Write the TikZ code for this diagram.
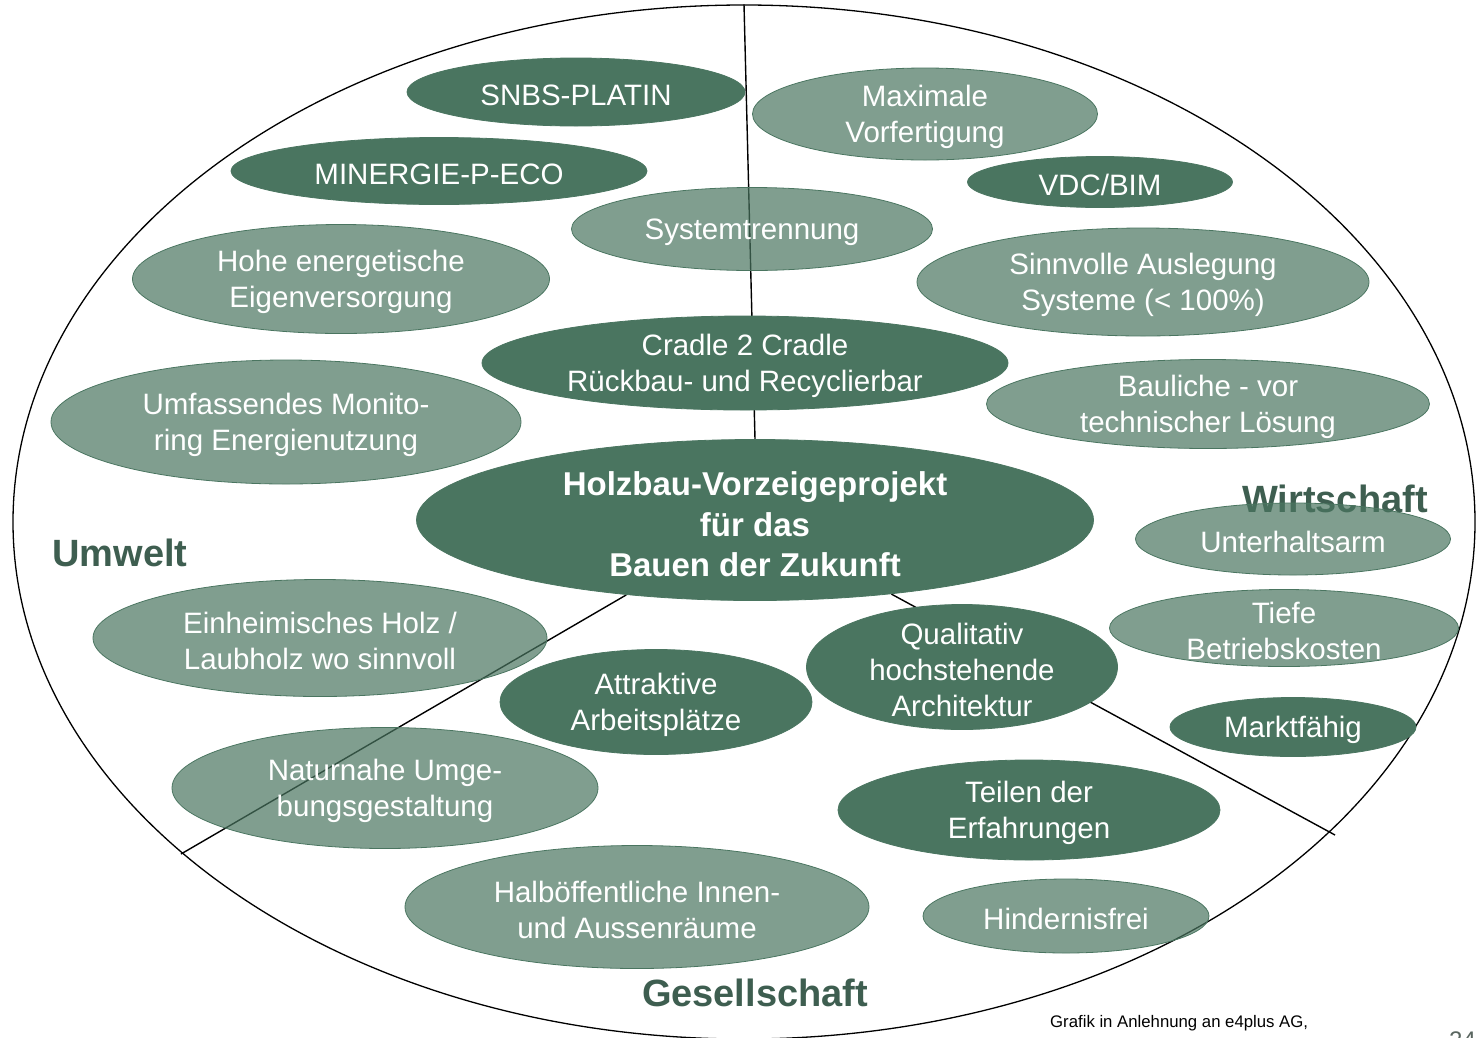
\documentclass[tikz,border=0pt]{standalone}
\usepackage{fontspec}
\setmainfont{Liberation Sans}
\usetikzlibrary{shapes.geometric}
\definecolor{gruen}{HTML}{4A7560}
\definecolor{titel}{HTML}{3E5E50}
\definecolor{seite}{HTML}{5A6660}
\pgfdeclarelayer{hinten}
\pgfsetlayers{hinten,main}

\begin{document}
\begin{tikzpicture}[
		x=1pt, y=-1pt,
		trenn/.style={line width=1.4pt, black},
		blase/.style={ellipse, inner sep=0pt, draw=gruen, line width=0.8pt},
		dunkel/.style={blase, fill=gruen},
		hell/.style={blase, fill=gruen, fill opacity=0.7},
		txt/.style={text=white, align=center, inner sep=0pt, yshift=-3pt,
			fill opacity=1, text opacity=1,
			font=\fontsize{29.5}{36}\selectfont},
		kern/.style={txt, yshift=-1.5pt, font=\bfseries\fontsize{33}{40.5}\selectfont},
		bereich/.style={text=titel, inner sep=0pt,
			font=\bfseries\fontsize{38}{44}\selectfont}]
	
	\useasboundingbox (0,0) rectangle (1481,1037);
	
	%% Rahmen und Trennlinien (hinter den Ellipsen)
	\begin{pgfonlayer}{hinten}
		\node[ellipse, draw=black, line width=1.3pt, inner sep=0pt,
			minimum width=1462pt, minimum height=1034pt] (rahmen) at (744,522) {};
	\end{pgfonlayer}
	\coordinate (endL) at (181,854);
	\coordinate (endR) at (1335,835);
	
	%% Bereiche
	\node[bereich] (umwelt) at (120,553) {Umwelt};
	\node[bereich] (wirtschaft) at (1335,499) {Wirtschaft};
	\node[bereich] (gesellschaft) at (755,993) {Gesellschaft};
	
	%% Ellipsen oben
	\node[dunkel, minimum width=338pt, minimum height=68pt,
		label={[txt]center:SNBS-PLATIN}] (snbs) at (576,92) {};
	\node[dunkel, minimum width=416pt, minimum height=67pt,
		label={[txt]center:MINERGIE-P-ECO}] (minergie) at (439,171) {};
	\node[hell, minimum width=345pt, minimum height=92pt,
		label={[txt]center:{Maximale\\Vorfertigung}}] (vorfertigung) at (925,114) {};
	\node[dunkel, minimum width=265pt, minimum height=51pt,
		label={[txt]center:VDC/BIM}] (bim) at (1100,182) {};
	\node[hell, minimum width=361pt, minimum height=83pt,
		label={[txt]center:Systemtrennung}] (system) at (752,229) {};
	\node[hell, minimum width=417pt, minimum height=109pt,
		label={[txt]center:{Hohe energetische\\Eigenversorgung}}] (eigen) at (341,279) {};
	\node[hell, minimum width=452pt, minimum height=108pt,
		label={[txt]center:{Sinnvolle Auslegung\\Systeme (< 100\%)}}] (auslegung) at (1143,282) {};
	\node[dunkel, minimum width=526pt, minimum height=94pt,
		label={[txt]center:{Cradle 2 Cradle\\Rückbau- und Recyclierbar}}] (cradle) at (745,363) {};
	\node[hell, minimum width=443pt, minimum height=89pt,
		label={[txt]center:{Bauliche - vor\\technischer Lösung}}] (bauliche) at (1208,404) {};
	\node[hell, minimum width=470pt, minimum height=124pt,
		label={[txt]center:{Umfassendes Monito-\\ring Energienutzung}}] (monitoring) at (286,422) {};
	
	%% Kern
	\node[dunkel, minimum width=677pt, minimum height=161pt,
		label={[kern]center:{Holzbau-Vorzeigeprojekt\\für das\\Bauen der Zukunft}}] (holzbau) at (755,520) {};
	
	%% Ellipsen unten
	\node[hell, minimum width=315pt, minimum height=72pt,
		label={[txt]center:Unterhaltsarm}] (unterhalt) at (1293,539) {};
	\node[hell, minimum width=454pt, minimum height=117pt,
		label={[txt]center:{Einheimisches Holz /\\Laubholz wo sinnvoll}}] (holz) at (320,638) {};
	\node[hell, minimum width=349pt, minimum height=77pt,
		label={[txt]center:{Tiefe\\Betriebskosten}}] (betrieb) at (1284,628) {};
	\node[dunkel, minimum width=311pt, minimum height=125pt,
		label={[txt]center:{Qualitativ\\hochstehende\\Architektur}}] (architektur) at (962,667) {};
	\node[dunkel, minimum width=312pt, minimum height=105pt,
		label={[txt]center:{Attraktive\\Arbeitsplätze}}] (arbeit) at (656,702) {};
	\node[dunkel, minimum width=246pt, minimum height=59pt,
		label={[txt]center:Marktfähig}] (markt) at (1293,727) {};
	\node[hell, minimum width=426pt, minimum height=121pt,
		label={[txt]center:{Naturnahe Umge-\\bungsgestaltung}}] (umgebung) at (385,788) {};
	\node[dunkel, minimum width=382pt, minimum height=100pt,
		label={[txt]center:{Teilen der\\Erfahrungen}}] (erfahrung) at (1029,810) {};
	\node[hell, minimum width=464pt, minimum height=123pt,
		label={[txt]center:{Halböffentliche Innen-\\und Aussenräume}}] (raeume) at (637,907) {};
	\node[hell, minimum width=286pt, minimum height=74pt,
		label={[txt]center:Hindernisfrei}] (hindernis) at (1066,916) {};
	
	%% Trennlinien
	\begin{pgfonlayer}{hinten}
		\draw[trenn] (rahmen.north) -- (holzbau.north);
		\draw[trenn] (holzbau) -- (endL);
		\draw[trenn] (holzbau) -- (endR);
	\end{pgfonlayer}
	
	%% Quelle
	\node[anchor=base west, inner sep=0pt, font=\fontsize{16.75}{19}\selectfont]
		(quelle) at (1050,1027) {Grafik in Anlehnung an e4plus AG,};
	\node[anchor=base west, inner sep=0pt, text=seite, font=\fontsize{24}{28}\selectfont]
		(seitenzahl) at (1449,1048) {24};
	
\end{tikzpicture}
\end{document}
